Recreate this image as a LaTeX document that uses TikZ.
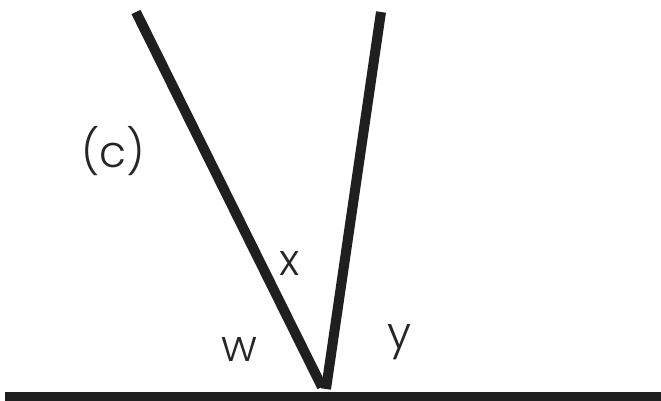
\documentclass[tikz,border=0pt]{standalone}
\usepackage{fontspec}
\setmainfont{Poppins}[UprightFont=* Light]
\begin{document}
\begin{tikzpicture}[x=1pt,y=-1pt,
  bar/.style={line width=10pt, draw=black!88, line cap=butt},
  lbl/.style={anchor=base, inner sep=0pt, font=\fontsize{44}{44}\selectfont, text=black!85}]
\useasboundingbox (0,0) rectangle (661,401);
\coordinate (L) at (136,12);
\coordinate (R) at (381,12);
\coordinate (P) at (322,387);
\coordinate (Q) at (326,389);
\coordinate (G1) at (5,397);
\coordinate (G2) at (661,397);
\draw[bar] (L) -- (P);
\draw[bar] (R) -- (Q);
\draw[bar] (G1) -- (G2);
\node[lbl] (c) at (113,167) {(c)};
\node[lbl] (x) at (290,275) {x};
\node[lbl] (w) at (239,361) {w};
\node[lbl] (y) at (399,348) {y};
\end{tikzpicture}
\end{document}
